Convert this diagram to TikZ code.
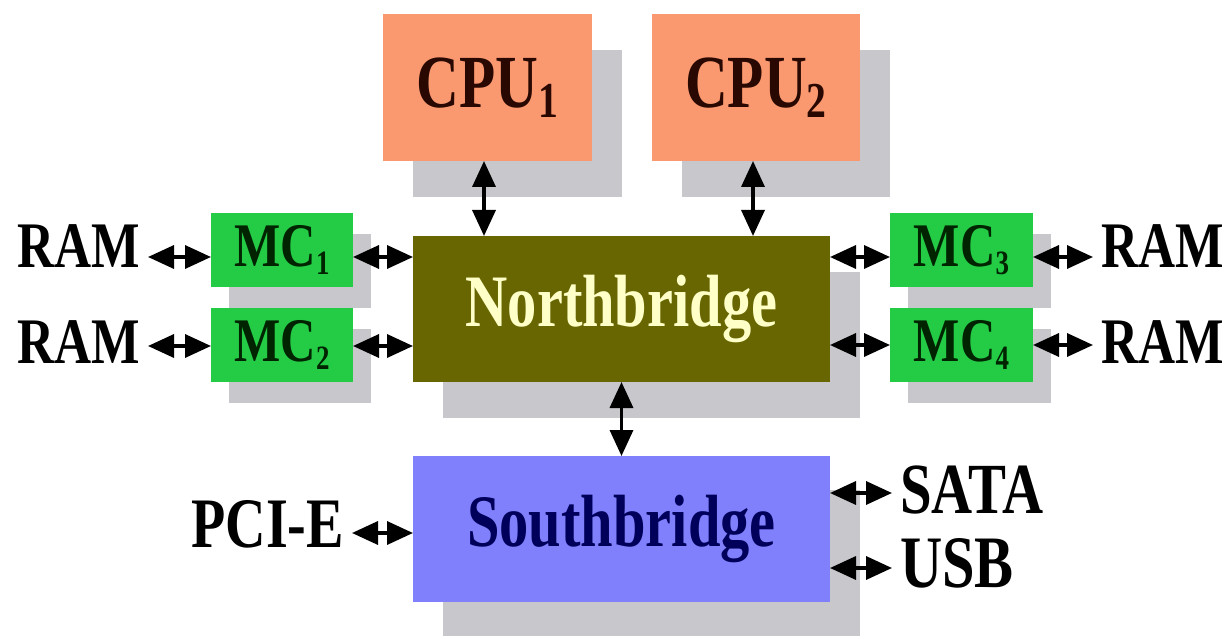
\documentclass[tikz,border=0pt]{standalone}
\usepackage{fontspec}
\setmainfont{Liberation Serif}
\usetikzlibrary{arrows.meta}
\definecolor{cpuc}{RGB}{250,152,112}
\definecolor{mcc}{RGB}{36,204,70}
\definecolor{nbc}{RGB}{104,102,0}
\definecolor{sbc}{RGB}{128,128,252}
\definecolor{shc}{RGB}{200,200,204}
\definecolor{nbtext}{RGB}{255,255,200}
\definecolor{sbtext}{RGB}{0,0,90}
\definecolor{cputext}{RGB}{40,8,0}
\definecolor{mctext}{RGB}{0,36,0}
\newcommand{\sx}[1]{\scalebox{0.79}[1]{#1}}
\newcommand{\subbig}[1]{\raisebox{-0.14em}{\scalebox{0.67}{#1}}}
\newcommand{\subsm}[1]{\raisebox{-0.13em}{\scalebox{0.55}{#1}}}
\begin{document}
\begin{tikzpicture}[x=1pt,y=-1pt,
  shadowbox/.style={rectangle,fill=shc,draw=none,inner sep=0pt,outer sep=0pt},
  unit/.style={rectangle,draw=none,inner sep=0pt,outer sep=0pt},
  big/.style={font=\fontsize{75pt}{80pt}\selectfont\bfseries},
  mid/.style={font=\fontsize{62pt}{66pt}\selectfont\bfseries},
  lbl/.style={inner xsep=8pt,inner ysep=0pt,outer sep=0pt,text=black},
  arr/.style={arrows={Triangle[length=26pt,width=23pt]-Triangle[length=26pt,width=23pt]},line width=3.5pt,draw=black}]
\useasboundingbox[fill=white] (0,0) rectangle (1232,639);
% shadows
\node[shadowbox,minimum width=209pt,minimum height=147pt] (cpu1s) at (517.5,123.5) {};
\node[shadowbox,minimum width=208pt,minimum height=147pt] (cpu2s) at (786,123.5) {};
\node[shadowbox,minimum width=417pt,minimum height=146pt] (nbs) at (651.5,345) {};
\node[shadowbox,minimum width=417pt,minimum height=146pt] (sbs) at (651.5,563) {};
\node[shadowbox,minimum width=142pt,minimum height=74pt] (mc1s) at (300,271) {};
\node[shadowbox,minimum width=142pt,minimum height=74pt] (mc2s) at (300,366) {};
\node[shadowbox,minimum width=143pt,minimum height=74pt] (mc3s) at (979.5,271) {};
\node[shadowbox,minimum width=143pt,minimum height=74pt] (mc4s) at (979.5,366) {};
% boxes
\node[unit,big,fill=cpuc,text=cputext,minimum width=209pt,minimum height=147pt] (cpu1) at (487.5,87.5) {\sx{CPU\subbig{1}}};
\node[unit,big,fill=cpuc,text=cputext,minimum width=208pt,minimum height=147pt] (cpu2) at (756,87.5) {\sx{CPU\subbig{2}}};
\node[unit,fill=nbc,text=nbtext,font=\fontsize{74pt}{78pt}\selectfont\bfseries,minimum width=417pt,minimum height=146pt] (nb) at (621.5,309) {\sx{Northbridge}};
\node[unit,fill=sbc,text=sbtext,font=\fontsize{74pt}{78pt}\selectfont\bfseries,minimum width=417pt,minimum height=146pt] (sb) at (621.5,529) {\sx{Southbridge}};
\node[unit,mid,fill=mcc,text=mctext,minimum width=142pt,minimum height=74pt] (mc1) at (282,250) {\sx{MC\subsm{1}}};
\node[unit,mid,fill=mcc,text=mctext,minimum width=142pt,minimum height=74pt] (mc2) at (282,345) {\sx{MC\subsm{2}}};
\node[unit,mid,fill=mcc,text=mctext,minimum width=143pt,minimum height=74pt] (mc3) at (961.5,250) {\sx{MC\subsm{3}}};
\node[unit,mid,fill=mcc,text=mctext,minimum width=143pt,minimum height=74pt] (mc4) at (961.5,345) {\sx{MC\subsm{4}}};
% labels
\node[lbl,font=\fontsize{65pt}{70pt}\selectfont\bfseries,anchor=base east] (ram1) at (148,268) {\sx{RAM}};
\node[lbl,font=\fontsize{65pt}{70pt}\selectfont\bfseries,anchor=base east] (ram2) at (148,363) {\sx{RAM}};
\node[lbl,font=\fontsize{65pt}{70pt}\selectfont\bfseries,anchor=base west] (ram3) at (1093,268) {\sx{RAM}};
\node[lbl,font=\fontsize{65pt}{70pt}\selectfont\bfseries,anchor=base west] (ram4) at (1093,363) {\sx{RAM}};
\node[lbl,font=\fontsize{71pt}{76pt}\selectfont\bfseries,anchor=base east] (pcie) at (352,547) {\sx{PCI-E}};
\node[lbl,font=\fontsize{72pt}{76pt}\selectfont\bfseries,anchor=base west] (sata) at (892,513) {\sx{SATA}};
\node[lbl,font=\fontsize{74pt}{78pt}\selectfont\bfseries,anchor=base west] (usb) at (892,587) {\sx{USB}};
% connector levels
\coordinate (r1) at (0,257);
\coordinate (r2) at (0,346);
\coordinate (r3) at (0,257);
\coordinate (r4) at (0,345);
\coordinate (c1) at (484,0);
\coordinate (c2) at (753,0);
\coordinate (ps) at (0,533);
\coordinate (ss) at (0,493);
\coordinate (us) at (0,568);
% connectors
\draw[arr] (cpu1.south -| c1) -- (nb.north -| c1);
\draw[arr] (cpu2.south -| c2) -- (nb.north -| c2);
\draw[arr] (nb.south) -- (sb.north);
\draw[arr] (ram1.east |- r1) -- (mc1.west |- r1);
\draw[arr] (mc1.east |- r1) -- (nb.west |- r1);
\draw[arr] (ram2.east |- r2) -- (mc2.west |- r2);
\draw[arr] (mc2.east |- r2) -- (nb.west |- r2);
\draw[arr] (nb.east |- r3) -- (mc3.west |- r3);
\draw[arr] (mc3.east |- r3) -- (ram3.west |- r3);
\draw[arr] (nb.east |- r4) -- (mc4.west |- r4);
\draw[arr] (mc4.east |- r4) -- (ram4.west |- r4);
\draw[arr] (pcie.east |- ps) -- (sb.west |- ps);
\draw[arr] (sb.east |- ss) -- (sata.west |- ss);
\draw[arr] (sb.east |- us) -- (usb.west |- us);
\end{tikzpicture}
\end{document}
